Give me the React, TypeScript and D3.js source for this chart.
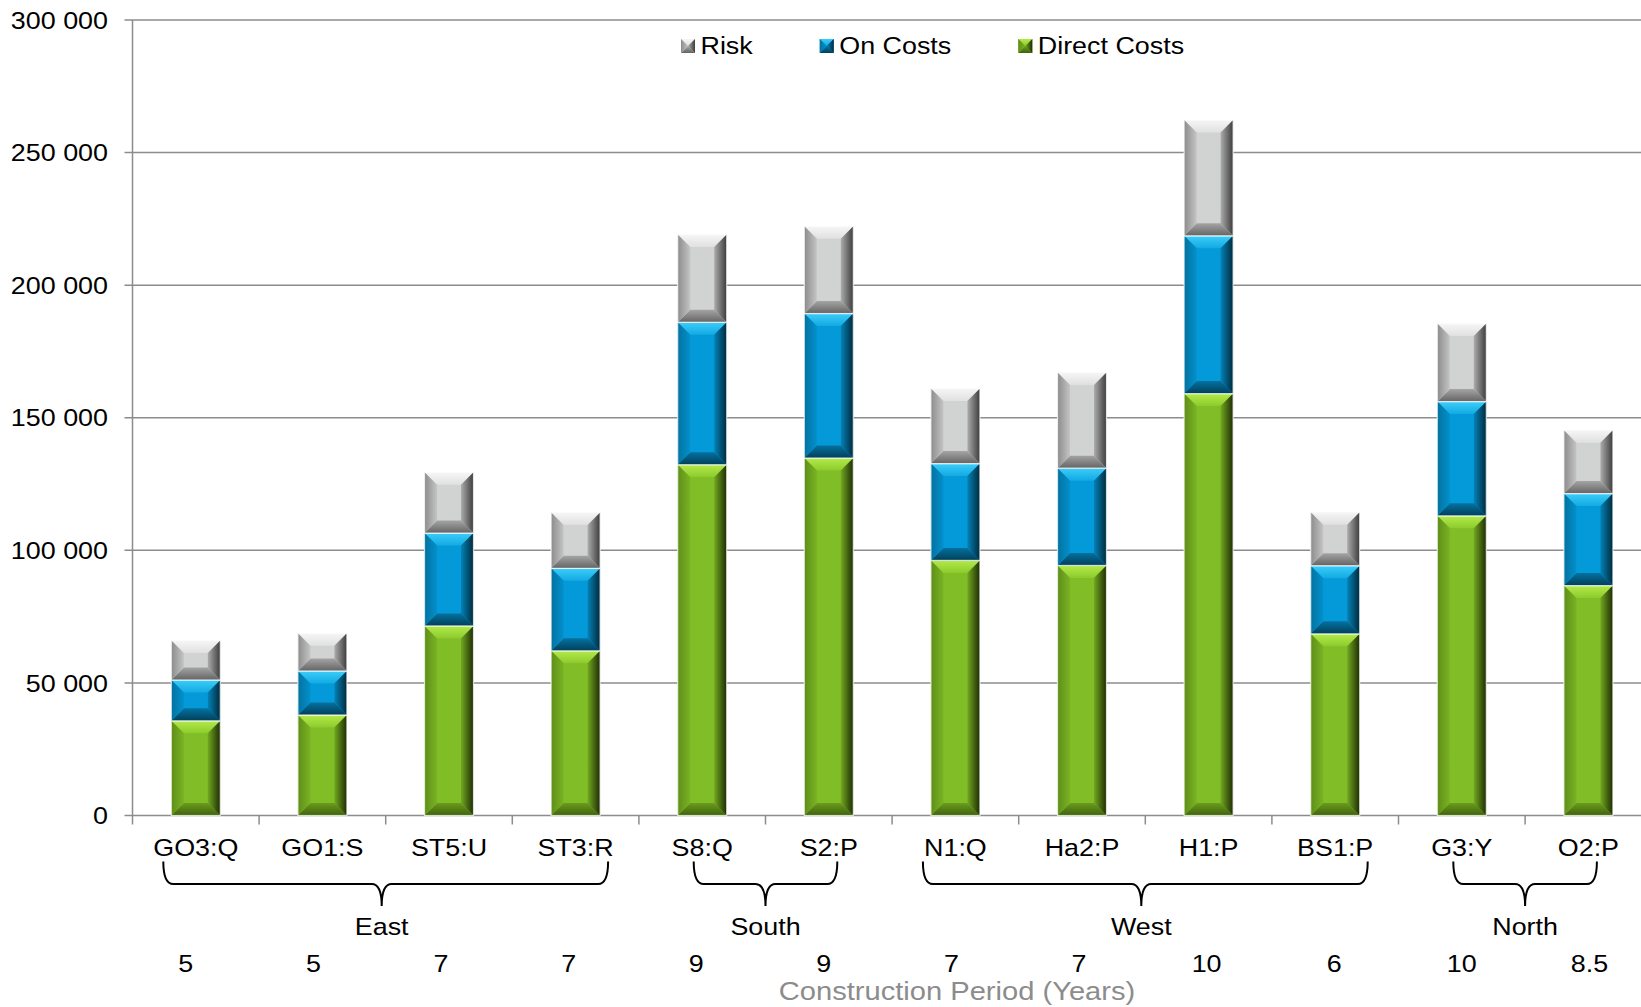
import React, { useMemo } from "react";
import * as d3 from "d3";

// ---- data ----
const categories = ["GO3:Q", "GO1:S", "ST5:U", "ST3:R", "S8:Q", "S2:P", "N1:Q", "Ha2:P", "H1:P", "BS1:P", "G3:Y", "O2:P"];
const directCosts = [35700, 37900, 71500, 62100, 132300, 134800, 96200, 94300, 159100, 68500, 113000, 86700];
const onCosts = [15400, 16600, 35000, 31100, 53700, 54500, 36500, 36700, 59500, 25700, 43100, 34700];
const riskCosts = [14900, 14200, 22900, 21100, 33100, 32900, 28300, 36100, 43700, 20200, 29400, 23900];
const regionOf = ["East", "East", "East", "East", "South", "South", "West", "West", "West", "West", "North", "North"];
const constructionYears = ["5", "5", "7", "7", "9", "9", "7", "7", "10", "6", "10", "8.5"];
const yTicks = [0, 50000, 100000, 150000, 200000, 250000, 300000];
const legendItems = ["Risk", "On Costs", "Direct Costs"];
const axisTitle = "Construction Period (Years)";

// ---- layout ----
const W = 1641;
const H = 1007;
const PLOT_LEFT = 132.5;
const STEP = 126.6;
const PLOT_TOP = 20;
const PLOT_BOTTOM = 815.5;
const FONT = "'Liberation Sans', Arial, Helvetica, sans-serif";
const SX = 1.12; // horizontal stretch applied to text
const BEVEL = 12.5;
const GRID = "#8c8c8c";

type Facets = {
  center: string;
  top: string[];
  bottom: string[];
  left: string[];
  right: string[];
};

// keys in stacking order (bottom to top); facet gradients run edge -> inner for top/left,
// inner -> edge for bottom/right
const seriesKeys = ["direct", "on", "risk"];
const palette: Record<string, Facets> = {
  direct: {
    center: "#80bd27",
    top: ["#b4ea4a", "#8ccb2c"],
    bottom: ["#6a9c1c", "#40620e"],
    left: ["#5f8e18", "#79b324"],
    right: ["#72a820", "#1e2d05"],
  },
  on: {
    center: "#049ad9",
    top: ["#3ccdf9", "#12aae3"],
    bottom: ["#04719f", "#023f5a"],
    left: ["#03729f", "#0390cc"],
    right: ["#0482b7", "#012a3c"],
  },
  risk: {
    center: "#d1d3d3",
    top: ["#f6f6f6", "#e0e0e0"],
    bottom: ["#a4a4a4", "#646464"],
    left: ["#8c8c8c", "#c4c4c4"],
    right: ["#acacac", "#3c3c3c"],
  },
};
const legendKey: Record<string, string> = { Risk: "risk", "On Costs": "on", "Direct Costs": "direct" };

function Txt(props: {
  x: number;
  y: number;
  size?: number;
  anchor?: "start" | "middle" | "end";
  fill?: string;
  children: React.ReactNode;
}) {
  const { x, y, size = 24, anchor = "middle", fill = "#000", children } = props;
  return (
    <text
      transform={`translate(${x},${y}) scale(${SX},1)`}
      fontSize={size}
      fontFamily={FONT}
      textAnchor={anchor}
      fill={fill}
    >
      {children}
    </text>
  );
}

function Bevel(props: { x0: number; y0: number; x1: number; y1: number; b: number; k: string; stroke?: string }) {
  const { x0, y0, x1, y1, k, stroke } = props;
  const w = x1 - x0;
  const h = y1 - y0;
  const b = Math.max(0, Math.min(props.b, w / 2, h / 2));
  const pts = (a: number[][]) => a.map((p) => p.join(",")).join(" ");
  return (
    <g>
      <rect x={x0} y={y0} width={w} height={h} fill={palette[k].center} />
      <polygon points={pts([[x0, y0], [x1, y0], [x1 - b, y0 + b], [x0 + b, y0 + b]])} fill={`url(#${k}-top)`} />
      <polygon points={pts([[x0, y1], [x1, y1], [x1 - b, y1 - b], [x0 + b, y1 - b]])} fill={`url(#${k}-bottom)`} />
      <polygon points={pts([[x0, y0], [x0 + b, y0 + b], [x0 + b, y1 - b], [x0, y1]])} fill={`url(#${k}-left)`} />
      <polygon points={pts([[x1, y0], [x1 - b, y0 + b], [x1 - b, y1 - b], [x1, y1]])} fill={`url(#${k}-right)`} />
      {stroke && <rect x={x0} y={y0} width={w} height={h} fill="none" stroke={stroke} strokeWidth={1.2} />}
    </g>
  );
}

function measure(text: string, size: number): number {
  try {
    const ctx = document.createElement("canvas").getContext("2d");
    if (ctx) {
      ctx.font = `${size}px 'Liberation Sans', Arial, sans-serif`;
      return ctx.measureText(text).width * SX;
    }
  } catch (e) {
    /* fall through */
  }
  return text.length * size * 0.55 * SX;
}

export default function App() {
  const x = useMemo(
    () =>
      d3
        .scaleBand<string>()
        .domain(categories)
        .range([PLOT_LEFT, PLOT_LEFT + STEP * categories.length])
        .paddingInner(0.613)
        .paddingOuter(0.3065),
    []
  );
  const y = useMemo(() => d3.scaleLinear().domain([0, 300000]).range([PLOT_BOTTOM, PLOT_TOP]), []);
  const fmt = d3.formatLocale({ decimal: ".", thousands: " ", grouping: [3], currency: ["", ""] }).format(",");

  const table = categories.map((c, i) => ({
    cat: c,
    direct: directCosts[i],
    on: onCosts[i],
    risk: riskCosts[i],
  }));
  const stacked = d3.stack<any>().keys(seriesKeys)(table);

  const bw = x.bandwidth();
  const step = x.step();
  const center = (c: string) => (x(c) as number) + bw / 2;

  // region brackets
  const regions = Array.from(new Set(regionOf));
  const brackets = regions.map((r) => {
    const idx = regionOf.map((g, i) => (g === r ? i : -1)).filter((i) => i >= 0);
    const first = idx[0];
    const last = idx[idx.length - 1];
    const wide = idx.length > 2;
    const inset = wide ? -8 : 16;
    const x0 = (x(categories[first]) as number) + inset;
    const x1 = (x(categories[last]) as number) + bw - inset;
    return { name: r, x0, x1, mid: (x0 + x1) / 2 - (wide ? 4 : 0) };
  });
  const bTop = 861.5;
  const bLine = 884;
  const bTip = 906;
  const bR = 10;
  const bracePath = (x0: number, x1: number, m: number) =>
    `M${x0},${bTop} Q${x0},${bLine} ${x0 + bR},${bLine} L${m - bR},${bLine} Q${m},${bLine} ${m},${bTip} ` +
    `Q${m},${bLine} ${m + bR},${bLine} L${x1 - bR},${bLine} Q${x1},${bLine} ${x1},${bTop}`;

  // legend layout
  const legendY = 46;
  const mk = 14;
  let lx = 681;
  const legend = legendItems.map((name) => {
    const item = { name, mx: lx, tx: lx + 19.5 };
    lx = item.tx + measure(name, 24) + 67;
    return item;
  });

  const boundaries = categories.map((c) => (x(c) as number) - (step - bw) / 2);
  boundaries.push(PLOT_LEFT + STEP * categories.length);

  return (
    <svg
      width={W}
      height={H}
      viewBox={`0 0 ${W} ${H}`}
      style={{ position: "absolute", left: 0, top: 0, background: "#fff", overflow: "hidden" }}
    >
      <defs>
        {seriesKeys.map((k) => {
          const p = palette[k];
          return (
            <React.Fragment key={k}>
              <linearGradient id={`${k}-top`} x1="0" y1="0" x2="0" y2="1">
                <stop offset="0" stopColor={p.top[0]} />
                <stop offset="1" stopColor={p.top[1]} />
              </linearGradient>
              <linearGradient id={`${k}-bottom`} x1="0" y1="0" x2="0" y2="1">
                <stop offset="0" stopColor={p.bottom[0]} />
                <stop offset="1" stopColor={p.bottom[1]} />
              </linearGradient>
              <linearGradient id={`${k}-left`} x1="0" y1="0" x2="1" y2="0">
                <stop offset="0" stopColor={p.left[0]} />
                <stop offset="1" stopColor={p.left[1]} />
              </linearGradient>
              <linearGradient id={`${k}-right`} x1="0" y1="0" x2="1" y2="0">
                <stop offset="0" stopColor={p.right[0]} />
                <stop offset="1" stopColor={p.right[1]} />
              </linearGradient>
            </React.Fragment>
          );
        })}
      </defs>
      <rect x={0} y={0} width={W} height={H} fill="#fff" />

      {/* gridlines and y axis */}
      {yTicks.map((t) => (
        <g key={t}>
          <line x1={PLOT_LEFT - 8} x2={W + 20} y1={y(t)} y2={y(t)} stroke={GRID} strokeWidth={1.5} />
          <Txt x={108} y={y(t) + 8.6} anchor="end">
            {fmt(t)}
          </Txt>
        </g>
      ))}
      <line x1={PLOT_LEFT} x2={PLOT_LEFT} y1={PLOT_TOP} y2={PLOT_BOTTOM} stroke={GRID} strokeWidth={1.5} />
      {boundaries.map((bx, i) => (
        <line key={i} x1={bx} x2={bx} y1={PLOT_BOTTOM} y2={PLOT_BOTTOM + 9} stroke={GRID} strokeWidth={1.5} />
      ))}

      {/* stacked beveled bars */}
      {stacked.map((s) => (
        <g key={s.key}>
          {s.map((d, i) => {
            const x0 = x(categories[i]) as number;
            return (
              <Bevel
                key={i}
                x0={x0}
                x1={x0 + bw}
                y0={y(d[1])}
                y1={y(d[0])}
                b={BEVEL}
                k={s.key}
                stroke="rgba(255,255,255,0.75)"
              />
            );
          })}
        </g>
      ))}

      {/* legend */}
      {legend.map((l) => (
        <g key={l.name}>
          <Bevel x0={l.mx} x1={l.mx + mk} y0={legendY - mk / 2} y1={legendY + mk / 2} b={mk / 2} k={legendKey[l.name]} />
          <Txt x={l.tx} y={legendY + 8} anchor="start">
            {l.name}
          </Txt>
        </g>
      ))}

      {/* category labels */}
      {categories.map((c) => (
        <Txt key={c} x={center(c)} y={856}>
          {c}
        </Txt>
      ))}

      {/* region brackets */}
      {brackets.map((b) => (
        <g key={b.name}>
          <path d={bracePath(b.x0, b.x1, b.mid)} fill="none" stroke="#000" strokeWidth={2} />
          <Txt x={b.mid} y={935}>
            {b.name}
          </Txt>
        </g>
      ))}

      {/* construction period row */}
      {categories.map((c, i) => (
        <Txt key={c} x={center(c) - 10 + i} y={972}>
          {constructionYears[i]}
        </Txt>
      ))}
      <Txt x={957} y={999.5} size={26} fill="#8c8c8c">
        {axisTitle}
      </Txt>
    </svg>
  );
}
